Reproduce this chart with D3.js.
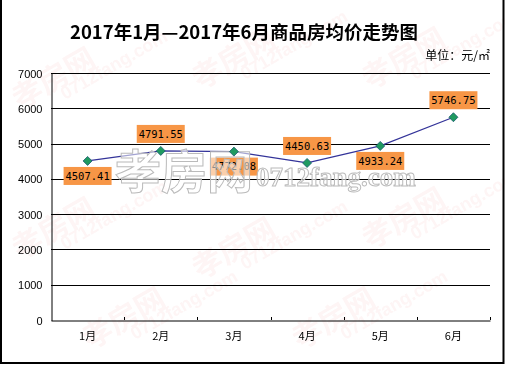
<!DOCTYPE html>
<html>
<head>
	<title>price-trend</title>
	<meta charset="utf-8">
	<style type="text/css">
		body { margin: 0; background: #fff; }
		svg { display: block; }
	</style>
</head>
<body>

<script type="text/javascript" src="https://cdn.jsdelivr.net/npm/d3@7/dist/d3.min.js"></script>
<script type="text/javascript">
	/*=========DATA=========*/
	var months = ["1月", "2月", "3月", "4月", "5月", "6月"];
	var prices = [4507.41, 4791.55, 4772.08, 4450.63, 4933.24, 5746.75];
	var priceLabels = ["4507.41", "4791.55", "4772.08", "4450.63", "4933.24", "5746.75"];
	var labelSide = [1, -1, 1, -1, 1, -1]; // 1 = below the point, -1 = above
	var yTicks = [0, 1000, 2000, 3000, 4000, 5000, 6000, 7000];

	/*=====SIZE SVG======*/
	var w = 505;
	var h = 365;
	var svg = d3.select("body").append("svg").attr("width", w).attr("height", h);

	var plotLeft = 51, plotRight = 490, plotTop = 73, plotBottom = 320;

	/*=========WATERMARK (faint)============*/
	var wm = svg.append("g").attr("opacity", 0.05);
	[[20, 110], [200, 90], [370, 90], [20, 260], [200, 280], [370, 250], [90, 350], [300, 350]].forEach(function(p) {
		wm.append("text")
			.attr("transform", "translate(" + p[0] + "," + p[1] + ") rotate(-30)")
			.attr("font-family", "Noto Sans CJK SC")
			.attr("font-weight", "bold")
			.attr("font-size", 30)
			.attr("fill", "#e03030")
			.text("孝房网");
		wm.append("text")
			.attr("transform", "translate(" + (p[0] + 45) + "," + (p[1] - 10) + ") rotate(-30)")
			.attr("font-family", "Liberation Sans")
			.attr("font-weight", "bold")
			.attr("font-size", 18)
			.attr("fill", "#e03030")
			.text("0712fang.com");
	});

	/*=========SCALES============*/
	var x = d3.scaleBand().domain(months).range([plotLeft, plotRight]);
	var y = d3.scaleLinear().domain([0, 7000]).range([plotBottom, plotTop]);

	// 网格线
	svg.append("g")
		.selectAll("line")
		.data(yTicks.slice(1))
		.enter()
		.append("line")
		.attr("x1", plotLeft).attr("x2", plotRight)
		.attr("y1", function(d) { return Math.round(y(d)) + 0.5; })
		.attr("y2", function(d) { return Math.round(y(d)) + 0.5; })
		.attr("stroke", "#000")
		.attr("stroke-width", 1);

	// y 轴
	var yAxis = svg.append("g")
		.attr("transform", "translate(" + (plotLeft + 0.5) + ",0.5)")
		.call(d3.axisLeft(y).tickValues(yTicks).tickSize(0).tickPadding(9).tickFormat(d3.format("d")));
	yAxis.select(".domain").attr("stroke", "#000");
	yAxis.selectAll("text")
		.attr("font-family", "Liberation Sans, Arial")
		.attr("font-size", 11)
		.attr("fill", "#000");

	// x 轴
	var xAxis = svg.append("g")
		.attr("transform", "translate(0," + (plotBottom + 0.5) + ")")
		.call(d3.axisBottom(x).tickSize(0).tickPadding(12));
	xAxis.select(".domain").attr("stroke", "#000");
	xAxis.selectAll("text")
		.attr("font-family", "Noto Sans CJK SC")
		.attr("font-size", 11)
		.attr("fill", "#000");
	// 刻度线（朝上）
	svg.append("g")
		.selectAll("line")
		.data(months)
		.enter()
		.append("line")
		.attr("x1", function(d) { return Math.round(x(d) + x.bandwidth()) + 0.5; })
		.attr("x2", function(d) { return Math.round(x(d) + x.bandwidth()) + 0.5; })
		.attr("y1", plotBottom).attr("y2", plotBottom - 3)
		.attr("stroke", "#000");

	/*=========LINE============*/
	var cx = function(d, i) { return x(months[i]) + x.bandwidth() / 2; };
	var line = d3.line()
		.x(function(d, i) { return cx(d, i); })
		.y(function(d) { return y(d); });

	svg.append("path")
		.datum(prices)
		.attr("d", line)
		.attr("fill", "none")
		.attr("stroke", "#333399")
		.attr("stroke-width", 1.2);

	// 数据标签
	var labels = svg.append("g")
		.selectAll("g")
		.data(prices)
		.enter()
		.append("g")
		.attr("transform", function(d, i) {
			var ty = labelSide[i] > 0 ? y(d) + 15 : y(d) - 17;
			return "translate(" + cx(d, i) + "," + ty + ")";
		});
	labels.append("rect")
		.attr("x", -24).attr("y", -9)
		.attr("width", 48).attr("height", 18)
		.attr("fill", "#f79646");
	labels.append("text")
		.attr("text-anchor", "middle")
		.attr("dy", "0.35em")
		.attr("font-family", "DejaVu Sans Mono")
		.attr("font-size", 10.5)
		.attr("fill", "#000")
		.text(function(d, i) { return priceLabels[i]; });

	// 中间水印
	var mid = svg.append("g");
	mid.append("text")
		.attr("x", 115).attr("y", 188)
		.attr("font-family", "Noto Sans CJK SC")
		.attr("font-weight", "bold")
		.attr("font-size", 46)
		.attr("fill", "#fff").attr("fill-opacity", 0.55)
		.attr("stroke", "#bbb").attr("stroke-width", 1)
		.text("孝房网");
	mid.append("text")
		.attr("x", 256).attr("y", 186)
		.attr("font-family", "Liberation Serif")
		.attr("font-weight", "bold")
		.attr("font-size", 27)
		.attr("fill", "#fff").attr("fill-opacity", 0.55)
		.attr("stroke", "#bbb").attr("stroke-width", 1)
		.text("0712fang.com");

	// 数据点（菱形）
	svg.append("g")
		.selectAll("path")
		.data(prices)
		.enter()
		.append("path")
		.attr("transform", function(d, i) { return "translate(" + cx(d, i) + "," + y(d) + ")"; })
		.attr("d", "M0,-4.5L4.5,0L0,4.5L-4.5,0Z")
		.attr("fill", "#1f9a60")
		.attr("stroke", "#1a5a70")
		.attr("stroke-width", 0.8);

	/*=========TITLE============*/
	svg.append("text")
		.attr("x", 244).attr("y", 39)
		.attr("text-anchor", "middle")
		.attr("font-family", "Noto Sans CJK SC")
		.attr("font-weight", "bold")
		.attr("font-size", 18.5)
		.attr("fill", "#000")
		.text("2017年1月—2017年6月商品房均价走势图");

	svg.append("text")
		.attr("x", 490).attr("y", 60)
		.attr("text-anchor", "end")
		.attr("font-family", "Noto Sans CJK SC")
		.attr("font-size", 12)
		.attr("fill", "#000")
		.text("单位：元/㎡");

	// 边框
	svg.append("path")
		.attr("d", "M1,0V363H503.5V0")
		.attr("fill", "none")
		.attr("stroke", "#000")
		.attr("stroke-width", 2);
</script>
</body>
</html>
